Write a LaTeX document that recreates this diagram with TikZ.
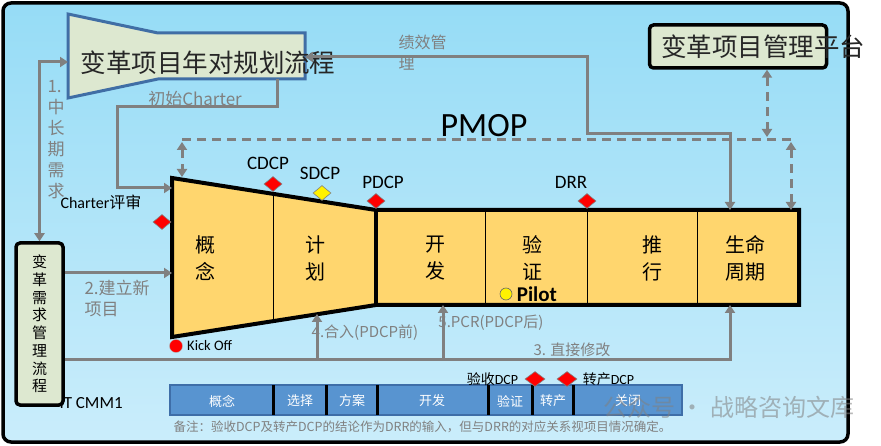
\documentclass[tikz,border=0pt]{standalone}
\usepackage{fontspec}
\setmainfont{Noto Sans CJK SC}
\newfontfamily\lat{Carlito}
\usepackage{tikz}
\usetikzlibrary{arrows.meta,positioning,calc,shapes.geometric}
\definecolor{skytop}{RGB}{150,220,246}
\definecolor{skybot}{RGB}{202,237,251}
\definecolor{boxgreen}{RGB}{221,232,208}
\definecolor{trapblue}{RGB}{64,110,165}
\definecolor{phasefill}{RGB}{255,214,110}
\definecolor{linegray}{RGB}{128,128,128}
\definecolor{barblue}{RGB}{88,148,208}
\definecolor{barline}{RGB}{62,110,168}
\newcommand{\fsz}[2]{\fontsize{#1}{#2}\selectfont}

\begin{document}
\begin{tikzpicture}[x=1pt,y=-1pt,
  flow/.style={draw=linegray,line width=3pt,-{Triangle[length=8pt,width=10pt]}},
  twoway/.style={draw=linegray,line width=3pt,{Triangle[length=8pt,width=10pt]}-{Triangle[length=8pt,width=10pt]}},
  link/.style={draw=linegray,line width=3pt,dash pattern=on 9pt off 6pt},
  gate/.style={diamond,draw=gray,line width=0.6pt,fill=red,minimum width=18pt,minimum height=15pt,inner sep=0pt},
  phase/.style={align=center,font=\fsz{20}{27}},
  tag/.style={font=\lat\fsz{19}{19}},
  grey/.style={text=linegray,font=\fsz{15}{18}},
  seg/.style={text=white,font=\fsz{13}{13}},
  greenbox/.style={draw,line width=3.5pt,rounded corners=4pt,fill=boxgreen}]
\useasboundingbox (0,0) rectangle (881,446);
% frame
\shade[top color=skytop,bottom color=skybot,rounded corners=8pt] (3,3) rectangle (848,442);
\draw[line width=3.5pt,rounded corners=8pt] (3,3) rectangle (848,442);

% yearly planning (top left)
\draw[draw=trapblue,line width=3pt,fill=boxgreen]
  (68,14) -- (158,33) -- (305,33) -- (305,79) -- (158,79) -- (68,98) -- cycle;
\coordinate (plan-w) at (68,62);
\coordinate (plan-s) at (277,79);
\coordinate (plan-e) at (305,57);
\node[font=\fsz{25.5}{25.5},text=black!85] (plantitle) at (208,63) {变革项目年对规划流程};

% platform (top right)
\node[greenbox,minimum width=177pt,minimum height=43pt] (mgmt) at (738,46.5) {};
\node[font=\fsz{25.5}{25.5},text=black!85,anchor=west] (mgmttitle) at ([xshift=10pt]mgmt.west) {变革项目管理平台};

\node[font=\lat\fsz{34}{34}] (pmop) at (484,126) {PMOP};

% PMOP phases
\draw[line width=4pt,fill=phasefill,line join=miter]
  (172,178) -- (376,210) -- (799,210) -- (799,305) -- (376,305) -- (172,337) -- cycle;
\draw[line width=4pt] (376,210) -- (376,305);
\draw[line width=1pt] (273,194) -- (273,321);
\draw[line width=1pt] (485,210) -- (485,305);
\draw[line width=1pt] (587,210) -- (587,305);
\draw[line width=1pt] (697,210) -- (697,305);
\node[phase] (concept) at (205,258) {概\\念};
\node[phase] (plan) at (315,258) {计\\划};
\node[phase] (dev) at (435,258) {开\\发};
\node[phase] (verify) at (532,258) {验\\证};
\node[phase] (rollout) at (652,258) {推\\行};
\node[phase] (life) at (745,258) {生命\\周期};
\coordinate (pm-tl) at (172,178);
\coordinate (pm-in) at (172,188);
\coordinate (pm-new) at (172,273);
\coordinate (pm-top) at (182,177);
\coordinate (life-n) at (730,210);
\coordinate (life-s) at (730,305);
\coordinate (merge) at (317,314);
\coordinate (pcr) at (443,305);

% decision points
\node[gate] (charter) at (162,222) {};
\node[font=\fsz{16}{16}] (chlab) at (101,202) {{\lat Charter}评审};
\node[gate] (cdcp) at (273,184) {};
\node[tag,above=3pt of cdcp,xshift=-5pt] (cdcplab) {CDCP};
\node[gate,fill=yellow] (sdcp) at (322,193) {};
\node[tag,above=2pt of sdcp,xshift=-2pt] (sdcplab) {SDCP};
\node[gate] (pdcp) at (376,201) {};
\node[tag,above=1pt of pdcp,xshift=7pt] (pdcplab) {PDCP};
\node[gate] (drr) at (587,201) {};
\node[tag,above=1pt of drr,xshift=-16pt] (drrlab) {DRR};
\node[circle,fill=red,draw=gray!60,minimum size=13pt,inner sep=0pt] (kick) at (176,346) {};
\node[right=1pt of kick,font=\lat\fsz{14.5}{14.5}] (kicklab) {Kick Off};
\node[circle,fill=yellow,draw=black!60,line width=0.6pt,minimum size=12pt,inner sep=0pt] (pilotdot) at (506,294) {};
\node[right=1pt of pilotdot,font=\lat\bfseries\fsz{21}{21}] (pilotlab) {Pilot};

% demand management box
\node[anchor=west,font=\lat\fsz{17}{17}] (cmm) at (56,403) {IT CMM1};
\node[greenbox,minimum width=47pt,minimum height=162pt,inner sep=0pt,align=center,font=\fsz{15}{17.7}] (req) at (39.5,324)
  {变\\革\\需\\求\\管\\理\\流\\程};
\coordinate (base) at (0,359);
\coordinate (row2) at (0,273);

% solid connectors
\draw[twoway] (plan-w) -| (req.north);
\node[grey,font=\fsz{17}{21},align=left,anchor=west] (longterm) at (44,140) {1.\\中\\长\\期\\需\\求};
\draw[flow] (plan-s) |- (117,107) |- (pm-in);
\node[grey,font=\fsz{17}{17}] (initch) at (195,99) {初始Charter};
\draw[twoway] (plan-e) -| (587,134) -| (life-n);
\node[grey,font=\fsz{16}{21},align=left,anchor=west] (perf) at (395,52.5) {绩效管\\理};
\draw[flow] (req.east |- row2) -- (pm-new);
\node[grey,font=\fsz{17}{21},align=left,anchor=west] (newproj) at (81,298.5) {2.建立新\\项目};
\node[grey] (mergelab) at (365,333) {4.合入(PDCP前)};
\node[grey] (pcrlab) at (491,323) {5.PCR(PDCP后)};
\node[grey] (modlab) at (572,350) {3. 直接修改};
\draw[flow] (req.east |- base) -| (life-s);
\draw[flow] (merge |- base) -- (merge);
\draw[flow] (pcr |- base) -- (pcr);

% dashed links
\draw[link] (182,140) -- (791,140);
\draw[link,{Triangle[length=8pt,width=10pt]}-{Triangle[length=8pt,width=10pt]}] (182,142) -- (pm-top);
\draw[link,{Triangle[length=8pt,width=10pt]}-{Triangle[length=8pt,width=10pt]}] (mgmt.south -| 767,0) -- (767,137);
\draw[link,{Triangle[length=8pt,width=10pt]}-{Triangle[length=8pt,width=10pt]}] (791,142) -- (life-n -| 791,0);

% IT CMM1 bar
\draw[fill=barblue,draw=barline,line width=1.5pt] (170,385) rectangle (682,415);
\draw[line width=3pt] (273,385) -- (273,415);
\draw[line width=3pt] (326,385) -- (326,415);
\draw[line width=3pt] (377,385) -- (377,415);
\draw[line width=3pt] (488,385) -- (488,415);
\draw[line width=3pt] (532,385) -- (532,415);
\draw[line width=3pt] (573,385) -- (573,415);
\node[seg] (s1) at (222,401) {概念};
\node[seg] (s2) at (300,401) {选择};
\node[seg] (s3) at (352,401) {方案};
\node[seg] (s4) at (432,401) {开发};
\node[seg] (s5) at (510,401) {验证};
\node[seg] (s6) at (553,401) {转产};
\node[seg] (s7) at (628,401) {关闭};
\node[gate,minimum width=20pt] (acc) at (535,379) {};
\node[gate,minimum width=20pt] (trans) at (567,379) {};
\node[font=\fsz{14}{14},left=3pt of acc] (acclab) {验收{\lat DCP}};
\node[font=\fsz{14}{14},right=2pt of trans] (translab) {转产{\lat DCP}};
\node[anchor=west,text=linegray,font=\fsz{12.5}{12.5}] (remark) at (170,427)
  {备注：验收DCP及转产DCP的结论作为DRR的输入，但与DRR的对应关系视项目情况确定。};
\node[anchor=west,text=gray,opacity=0.55,font=\fsz{24}{24}] (wm) at (600,407) {公众号 · 战略咨询文库};
\end{tikzpicture}
\end{document}
